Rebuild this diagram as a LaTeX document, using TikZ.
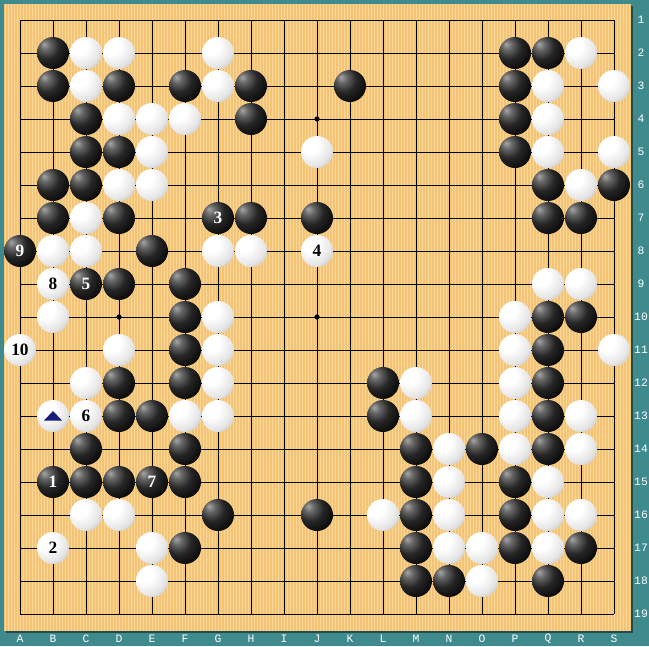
\documentclass[tikz,border=0pt]{standalone}
\usepackage{fontspec}
\setmainfont{Liberation Serif}
\newfontfamily\labfont{Liberation Mono}
\definecolor{teal0}{RGB}{62,138,140}
\definecolor{wood}{RGB}{243,196,118}
\definecolor{woodlt}{RGB}{250,214,152}
\definecolor{navy0}{RGB}{22,30,120}
\pgfdeclareradialshading{bshade}{\pgfpoint{-14bp}{14bp}}{color(0bp)=(black!35); color(8bp)=(black!60); color(20bp)=(black!85); color(36bp)=(black!97); color(80bp)=(black)}
\pgfdeclareradialshading{wshade}{\pgfpoint{-14bp}{14bp}}{color(0bp)=(white); color(14bp)=(white); color(30bp)=(black!10); color(48bp)=(black!35); color(60bp)=(black!55); color(80bp)=(black!60)}
\begin{document}
\begin{tikzpicture}[x=0.75pt,y=-0.75pt,
  stoneb/.style={circle,inner sep=0pt,minimum size=24pt,shading=bshade,text=white,font=\fontsize{13}{13}\selectfont\bfseries},
  stonew/.style={circle,inner sep=0pt,minimum size=24pt,shading=wshade,text=black,font=\fontsize{13}{13}\selectfont\bfseries},
  gridline/.style={line width=0.75pt,black},
  coordlab/.style={text=white,font=\labfont\fontsize{8.5}{8.5}\selectfont,inner sep=0pt}]
\useasboundingbox (0,0) rectangle (649,646);
\fill[teal0] (0,0) rectangle (649,646);
% board shadow
\fill[teal0!55!black] (6,6) rectangle (633,633);
\fill[wood] (4,4) rectangle (631,631);
\foreach \x in {5,8,...,630} \draw[woodlt,line width=0.6pt] (\x,4) -- (\x,631);
% grid
\foreach \i in {0,...,18} {
  \draw[gridline] ({20+33*\i},20) -- ({20+33*\i},614);
  \draw[gridline] (20,{20+33*\i}) -- (614,{20+33*\i});
}
% star points
\foreach \c/\r in {4/4,10/4,16/4,4/10,10/10,16/10,4/16,10/16,16/16}
  \fill ({20+33*(\c-1)},{20+33*(\r-1)}) circle (2.6);
% coordinates
\foreach \l [count=\k from 0] in {A,B,C,D,E,F,G,H,I,J,K,L,M,N,O,P,Q,R,S}
  \node[coordlab] (col\k) at ({20+33*\k},639) {\l};
\foreach \n [count=\k from 0] in {1,...,19}
  \node[coordlab] (row\k) at (641,{20+33*\k}) {\n};
% black stones
\foreach \c/\r in {2/2,16/2,17/2,
2/3,4/3,6/3,8/3,11/3,16/3,
3/4,8/4,16/4,
3/5,4/5,16/5,
2/6,3/6,17/6,19/6,
2/7,4/7,8/7,10/7,17/7,18/7,
5/8,
4/9,6/9,
6/10,17/10,18/10,
6/11,17/11,
4/12,6/12,12/12,17/12,
4/13,5/13,12/13,17/13,
3/14,6/14,13/14,15/14,17/14,
3/15,4/15,6/15,13/15,16/15,
7/16,10/16,13/16,16/16,
6/17,13/17,16/17,18/17,
13/18,14/18,17/18}
  \node[stoneb] (b\c-\r) at ({20+33*(\c-1)},{20+33*(\r-1)}) {};
% white stones
\foreach \c/\r in {3/2,4/2,7/2,18/2,
3/3,7/3,17/3,19/3,
4/4,5/4,6/4,17/4,
5/5,10/5,17/5,19/5,
4/6,5/6,18/6,
3/7,
2/8,3/8,7/8,8/8,
17/9,18/9,
2/10,7/10,16/10,
4/11,7/11,16/11,19/11,
3/12,7/12,13/12,16/12,
2/13,6/13,7/13,13/13,16/13,18/13,
14/14,16/14,18/14,
14/15,17/15,
3/16,4/16,12/16,14/16,17/16,18/16,
5/17,14/17,15/17,17/17,
5/18,15/18}
  \node[stonew] (w\c-\r) at ({20+33*(\c-1)},{20+33*(\r-1)}) {};
% numbered stones
\node[stoneb] (m1) at (53,482) {1};
\node[stonew] (m2) at (53,548) {2};
\node[stoneb] (m3) at (218,218) {3};
\node[stonew] (m4) at (317,251) {4};
\node[stoneb] (m5) at (86,284) {5};
\node[stonew] (m6) at (86,416) {6};
\node[stoneb] (m7) at (152,482) {7};
\node[stonew] (m8) at (53,284) {8};
\node[stoneb] (m9) at (20,251) {9};
\node[stonew] (m10) at (20,350) {10};
% triangle mark
\fill[navy0] (44,420.5) -- (62,420.5) -- (53,411) -- cycle;
\end{tikzpicture}
\end{document}
